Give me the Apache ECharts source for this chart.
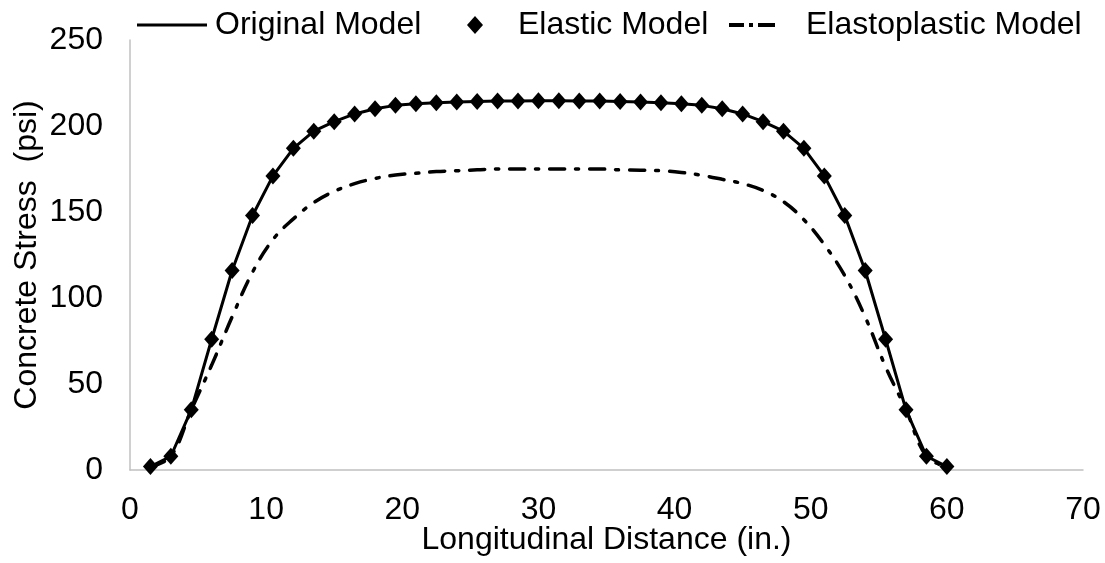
<!DOCTYPE html>
<html>
<head>
<meta charset="utf-8">
<script src="https://cdn.jsdelivr.net/npm/echarts@6/dist/echarts.min.js"></script>
<style>
  html, body { margin: 0; padding: 0; background: #fff; }
  #chart { width: 1105px; height: 563px; }
</style>
</head>
<body>
<div id="chart"></div>
<script>
// distances along the slab (in.)
const distance = [1.5, 3, 4.5, 6, 7.5, 9, 10.5, 12, 13.5, 15, 16.5, 18, 19.5, 21, 22.5, 24, 25.5, 27, 28.5, 30,
                  31.5, 33, 34.5, 36, 37.5, 39, 40.5, 42, 43.5, 45, 46.5, 48, 49.5, 51, 52.5, 54, 55.5, 57, 58.5, 60];

// stresses (psi)
const originalModel = [2, 8, 35, 76, 116, 148, 171, 187, 197, 202.5, 207, 210, 212, 213, 213.5, 214, 214.3, 214.5, 214.6, 214.7,
                       214.7, 214.6, 214.5, 214.3, 214, 213.5, 213, 212, 210, 207, 202.5, 197, 187, 171, 148, 116, 76, 35, 8, 2];
const elasticModel = [2, 8, 35, 76, 116, 148, 171, 187, 197, 202.5, 207, 210, 212, 213, 213.5, 214, 214.3, 214.5, 214.6, 214.7,
                      214.7, 214.6, 214.5, 214.3, 214, 213.5, 213, 212, 210, 207, 202.5, 197, 187, 171, 148, 116, 76, 35, 8, 2];
const elastoplasticModel = [2, 8, 35, 61, 89, 115, 134, 146, 155.5, 162, 166.5, 169.5, 171.5, 172.5, 173.5, 174, 174.5, 175, 175, 175,
                            175, 175, 175, 174.5, 174.3, 174, 173, 171.3, 169, 166.5, 162.5, 156, 145.5, 131, 113, 89, 60, 35, 8, 2];

const pairs = (ys) => distance.map((x, i) => [x, ys[i]]);

const font = 'Liberation Sans, Arial, sans-serif';
const chart = echarts.init(document.getElementById('chart'));

const txt = { fontSize: 32, fontFamily: font, color: '#000' };

chart.setOption({
  animation: false,
  legend: [
    {
      data: [{ name: 'Original Model', icon: 'rect' }],
      left: 132, top: 4,
      itemWidth: 70, itemHeight: 3,
      textStyle: Object.assign({ padding: [0, 0, 0, 3] }, txt)
    },
    {
      data: [{ name: 'Elastic Model', icon: 'diamond' }],
      left: 462, top: 4,
      itemWidth: 16, itemHeight: 18,
      textStyle: Object.assign({ padding: [0, 0, 0, 30] }, txt)
    },
    {
      data: [{ name: 'Elastoplastic Model', icon: 'path://M0,0H15V4H0Z M20,0H24V4H20Z M29,0H46V4H29Z' }],
      left: 724, top: 4,
      itemWidth: 46, itemHeight: 4,
      textStyle: Object.assign({ padding: [0, 0, 0, 26] }, txt)
    }
  ],
  grid: { left: 130, right: 22, top: 40, bottom: 93, outerBoundsMode: 'none' },
  xAxis: {
    type: 'value',
    min: 0, max: 70, interval: 10,
    name: 'Longitudinal Distance (in.)',
    nameLocation: 'middle',
    nameGap: 54,
    nameMoveOverlap: false,
    nameTextStyle: txt,
    axisLine: { lineStyle: { color: '#c0c0c0', width: 1.5 } },
    axisTick: { show: false },
    splitLine: { show: false },
    axisLabel: Object.assign({ margin: 24 }, txt)
  },
  yAxis: {
    type: 'value',
    min: 0, max: 250, interval: 50,
    name: 'Concrete Stress  (psi)',
    nameLocation: 'middle',
    nameGap: 87,
    nameMoveOverlap: false,
    nameTextStyle: txt,
    axisLine: { show: true, lineStyle: { color: '#c0c0c0', width: 1.5 } },
    axisTick: { show: false },
    splitLine: { show: false },
    axisLabel: Object.assign({ margin: 27 }, txt)
  },
  series: [
    {
      name: 'Elastoplastic Model',
      type: 'line',
      data: pairs(elastoplasticModel),
      smooth: 0.4,
      showSymbol: false,
      symbol: 'none',
      lineStyle: { color: '#000', width: 3.5, type: [15, 11, 3, 11], cap: 'round' },
      itemStyle: { color: '#000' },
      z: 2
    },
    {
      name: 'Original Model',
      type: 'line',
      data: pairs(originalModel),
      showSymbol: false,
      symbol: 'none',
      lineStyle: { color: '#000', width: 3 },
      itemStyle: { color: '#000' },
      z: 3
    },
    {
      name: 'Elastic Model',
      type: 'scatter',
      data: pairs(elasticModel),
      symbol: 'diamond',
      symbolSize: [15, 17],
      itemStyle: { color: '#000', opacity: 1 },
      z: 4
    }
  ]
});
</script>
</body>
</html>
